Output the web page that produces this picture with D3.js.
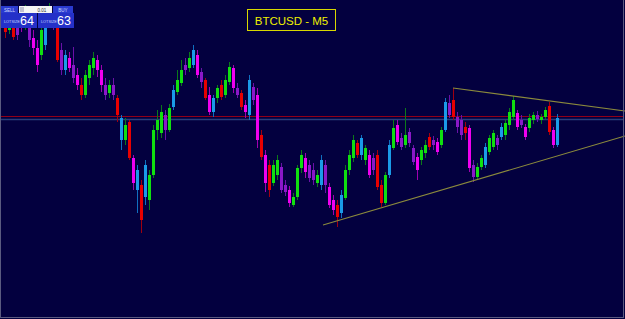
<!DOCTYPE html>
<html><head><meta charset="utf-8">
<script src="https://cdn.jsdelivr.net/npm/d3@7"></script>
<style>html,body{margin:0;padding:0;background:#03003f;overflow:hidden}</style>
</head><body>
<svg id="c" width="625" height="319"></svg>
<script>
const title = "BTCUSD - M5";
const opens  = [26575,26570,26578,26565,26572,26580,26575,26562,26552,26545,26555,26578,26585,26573,26550,26530,26542,26535,26525,26515,26505,26522,26532,26540,26530,26515,26507,26515,26502,26482,26460,26478,26442,26410,26415,26403,26400,26425,26470,26467,26485,26470,26493,26508,26517,26530,26532,26535,26545,26528,26520,26505,26488,26502,26515,26505,26518,26532,26512,26507,26495,26485,26513,26505,26465,26445,26435,26417,26425,26433,26415,26410,26395,26403,26432,26442,26435,26430,26417,26415,26435,26413,26400,26395,26387,26402,26430,26442,26457,26445,26440,26445,26430,26445,26415,26397,26425,26452,26475,26462,26455,26468,26452,26443,26440,26447,26463,26455,26458,26455,26470,26497,26500,26483,26480,26473,26472,26435,26423,26433,26435,26448,26453,26462,26463,26465,26475,26483,26487,26480,26473,26472,26480,26485,26480,26483,26494,26470,26455];
const highs  = [26582,26585,26582,26575,26588,26595,26580,26570,26560,26575,26582,26597,26592,26578,26557,26550,26548,26553,26532,26522,26530,26540,26548,26545,26535,26522,26520,26522,26505,26485,26482,26480,26445,26435,26420,26440,26430,26475,26490,26495,26490,26496,26515,26530,26540,26542,26548,26555,26550,26532,26522,26513,26505,26515,26520,26525,26538,26535,26517,26510,26500,26525,26517,26512,26470,26450,26440,26440,26445,26437,26420,26414,26407,26435,26450,26447,26440,26437,26430,26445,26440,26417,26405,26400,26410,26435,26450,26465,26460,26465,26455,26450,26447,26450,26420,26428,26460,26480,26480,26467,26492,26472,26455,26447,26453,26460,26467,26464,26462,26473,26502,26505,26512,26488,26485,26478,26475,26440,26437,26445,26457,26465,26470,26465,26477,26480,26492,26504,26490,26485,26476,26486,26488,26489,26486,26493,26498,26473,26486];
const lows   = [26562,26566,26560,26560,26568,26570,26553,26545,26528,26540,26550,26572,26570,26538,26525,26525,26528,26517,26510,26500,26502,26515,26525,26523,26508,26500,26502,26500,26478,26450,26455,26440,26410,26387,26367,26395,26390,26422,26460,26462,26460,26468,26490,26505,26514,26525,26528,26532,26522,26512,26500,26485,26483,26497,26500,26502,26515,26507,26502,26490,26482,26480,26495,26452,26440,26408,26403,26414,26420,26407,26404,26393,26393,26400,26427,26422,26418,26415,26413,26410,26407,26392,26385,26373,26382,26400,26425,26438,26442,26440,26435,26422,26425,26410,26393,26395,26422,26450,26455,26450,26452,26453,26435,26420,26435,26442,26450,26450,26445,26452,26468,26482,26480,26467,26460,26460,26428,26418,26420,26430,26432,26445,26450,26450,26460,26460,26470,26480,26470,26472,26460,26468,26476,26478,26476,26481,26465,26452,26453];
const closes = [26568,26578,26563,26572,26580,26575,26560,26552,26535,26570,26578,26585,26575,26540,26530,26545,26532,26522,26515,26505,26525,26535,26542,26530,26515,26505,26515,26505,26485,26460,26475,26442,26417,26430,26380,26435,26425,26470,26480,26488,26470,26492,26510,26520,26530,26535,26542,26550,26525,26518,26502,26488,26502,26512,26503,26520,26533,26512,26505,26493,26488,26520,26500,26460,26443,26417,26410,26435,26440,26410,26408,26397,26403,26432,26445,26428,26422,26420,26425,26440,26415,26395,26390,26383,26405,26430,26445,26460,26445,26462,26452,26425,26442,26413,26397,26425,26455,26472,26458,26453,26465,26457,26438,26430,26450,26455,26453,26460,26448,26470,26498,26485,26483,26473,26465,26467,26432,26423,26433,26442,26453,26462,26467,26455,26473,26477,26488,26500,26473,26475,26463,26482,26485,26481,26483,26490,26468,26455,26482];
const colorCodes = ("rgrpmgpmmg"+"bgprpbmpmr"+"gggmmpgprb"+"grmbrbgggg"+"pgbggpgbmp"+"rmbgrggmpr"+"mbpmrmrggp"+"pmgggmppgb"+"pmmrbgggrb"+"gmprrgbgmp"+"gppmggrpmg"+"bprpprmpgg"+"bggpbgggmp"+"mggpggrmb").split("");
const levelPrices = [26484, 26481.5];
const upperTrend = [{i:112, p:26512}, {i:155, p:26489}];
const lowerTrend = [{i:79.5, p:26375}, {i:155, p:26464}];
const panelNumbers = ["64", "63"];

const bodyCol = {g:"#10e010", r:"#e80000", m:"#f000f0", b:"#1a9be8", p:"#8a18c8"};
const wickCol = {g:"#0b7a1a", r:"#a00010", m:"#a000b0", b:"#1070c0", p:"#6a10a8"};

const svg = d3.select("#c");
const W = 625, H = 319;
const x = d3.scaleLinear().domain([0, opens.length - 1]).range([5, 557]);
const y = d3.scaleLinear().domain([26600, 26281]).range([0, 319]);

svg.append("rect").attr("width", W).attr("height", H).attr("fill", "#03003f");

// horizontal levels
svg.append("line").attr("x1", 1).attr("x2", 623).attr("y1", Math.round(y(levelPrices[1])) + 0.5).attr("y2", Math.round(y(levelPrices[1])) + 0.5)
  .attr("stroke", "#2a3e7a").attr("stroke-width", 1.4);
svg.append("line").attr("x1", 1).attr("x2", 623).attr("y1", Math.round(y(levelPrices[0])) + 0.5).attr("y2", Math.round(y(levelPrices[0])) + 0.5)
  .attr("stroke", "#900018").attr("stroke-width", 1.2);

const data = opens.map((o, i) => ({i, o, h: highs[i], l: lows[i], c: closes[i], k: colorCodes[i] || "p"}));
const g = svg.append("g");
g.selectAll("line.w").data(data).join("line").attr("class", "w")
  .attr("x1", d => Math.round(x(d.i)) + 0.5).attr("x2", d => Math.round(x(d.i)) + 0.5)
  .attr("y1", d => y(d.h)).attr("y2", d => y(d.l))
  .attr("stroke", d => wickCol[d.k]).attr("stroke-width", 1);
g.selectAll("rect.b").data(data).join("rect").attr("class", "b")
  .attr("x", d => Math.round(x(d.i)) - 1).attr("width", 3)
  .attr("y", d => Math.min(y(d.o), y(d.c)))
  .attr("height", d => Math.max(1, Math.abs(y(d.o) - y(d.c))))
  .attr("fill", d => bodyCol[d.k]);

// trend lines
const tl = d3.line().x(d => x(d.i)).y(d => y(d.p));
[upperTrend, lowerTrend].forEach(t => svg.append("path").attr("d", tl(t)).attr("fill", "none")
  .attr("stroke", "#8c8a3c").attr("stroke-width", 1.1));

// frame
svg.append("line").attr("x1", 0.5).attr("x2", 0.5).attr("y1", 0).attr("y2", 318).attr("stroke", "#5a5a80");
svg.append("line").attr("x1", 0).attr("x2", 624).attr("y1", 317.5).attr("y2", 317.5).attr("stroke", "#5a5a80");
svg.append("line").attr("x1", 623.5).attr("x2", 623.5).attr("y1", 0).attr("y2", 318).attr("stroke", "#5a5a80");

// title box
svg.append("rect").attr("x", 247.5).attr("y", 9.5).attr("width", 88).attr("height", 21)
  .attr("fill", "#03003f").attr("stroke", "#d8d800").attr("stroke-width", 1);
svg.append("text").attr("x", 291.5).attr("y", 24.5).attr("text-anchor", "middle")
  .attr("font-family", "Liberation Sans, Arial, sans-serif").attr("font-size", 11.5)
  .attr("fill", "#f0f000").text(title);

// trade panel
const p = svg.append("g");
p.append("rect").attr("x", 1).attr("y", 6).attr("width", 17).attr("height", 7).attr("fill", "#2a3ad0");
p.append("text").attr("x", 9.5).attr("y", 11.5).attr("text-anchor", "middle").attr("font-size", 4.5)
  .attr("font-family", "Liberation Sans, Arial, sans-serif").attr("fill", "#d0d8ff").text("SELL");
p.append("rect").attr("x", 19).attr("y", 6).attr("width", 33).attr("height", 7).attr("fill", "#f4f4f4");
p.append("rect").attr("x", 20).attr("y", 7).attr("width", 4).attr("height", 5).attr("fill", "#c0c0d0");
p.append("text").attr("x", 42).attr("y", 11.5).attr("text-anchor", "middle").attr("font-size", 4.5)
  .attr("font-family", "Liberation Sans, Arial, sans-serif").attr("fill", "#333").text("0.01");
p.append("rect").attr("x", 53).attr("y", 6).attr("width", 20).attr("height", 7).attr("fill", "#2a3ad0");
p.append("text").attr("x", 63).attr("y", 11.5).attr("text-anchor", "middle").attr("font-size", 4.5)
  .attr("font-family", "Liberation Sans, Arial, sans-serif").attr("fill", "#d0d8ff").text("BUY");
[[1, panelNumbers[0]], [38, panelNumbers[1]]].forEach(([px, n]) => {
  p.append("rect").attr("x", px).attr("y", 13).attr("width", 36).attr("height", 15).attr("fill", "#2430c8");
  p.append("text").attr("x", px + 3).attr("y", 23).attr("font-size", 3.8)
    .attr("font-family", "Liberation Sans, Arial, sans-serif").attr("fill", "#c8d0ff").text("LOTSIZE");
  p.append("text").attr("x", px + 19).attr("y", 24.5).attr("font-size", 12.5)
    .attr("font-family", "Liberation Sans, Arial, sans-serif").attr("fill", "#ffffff").text(n);
});
</script>
</body></html>
